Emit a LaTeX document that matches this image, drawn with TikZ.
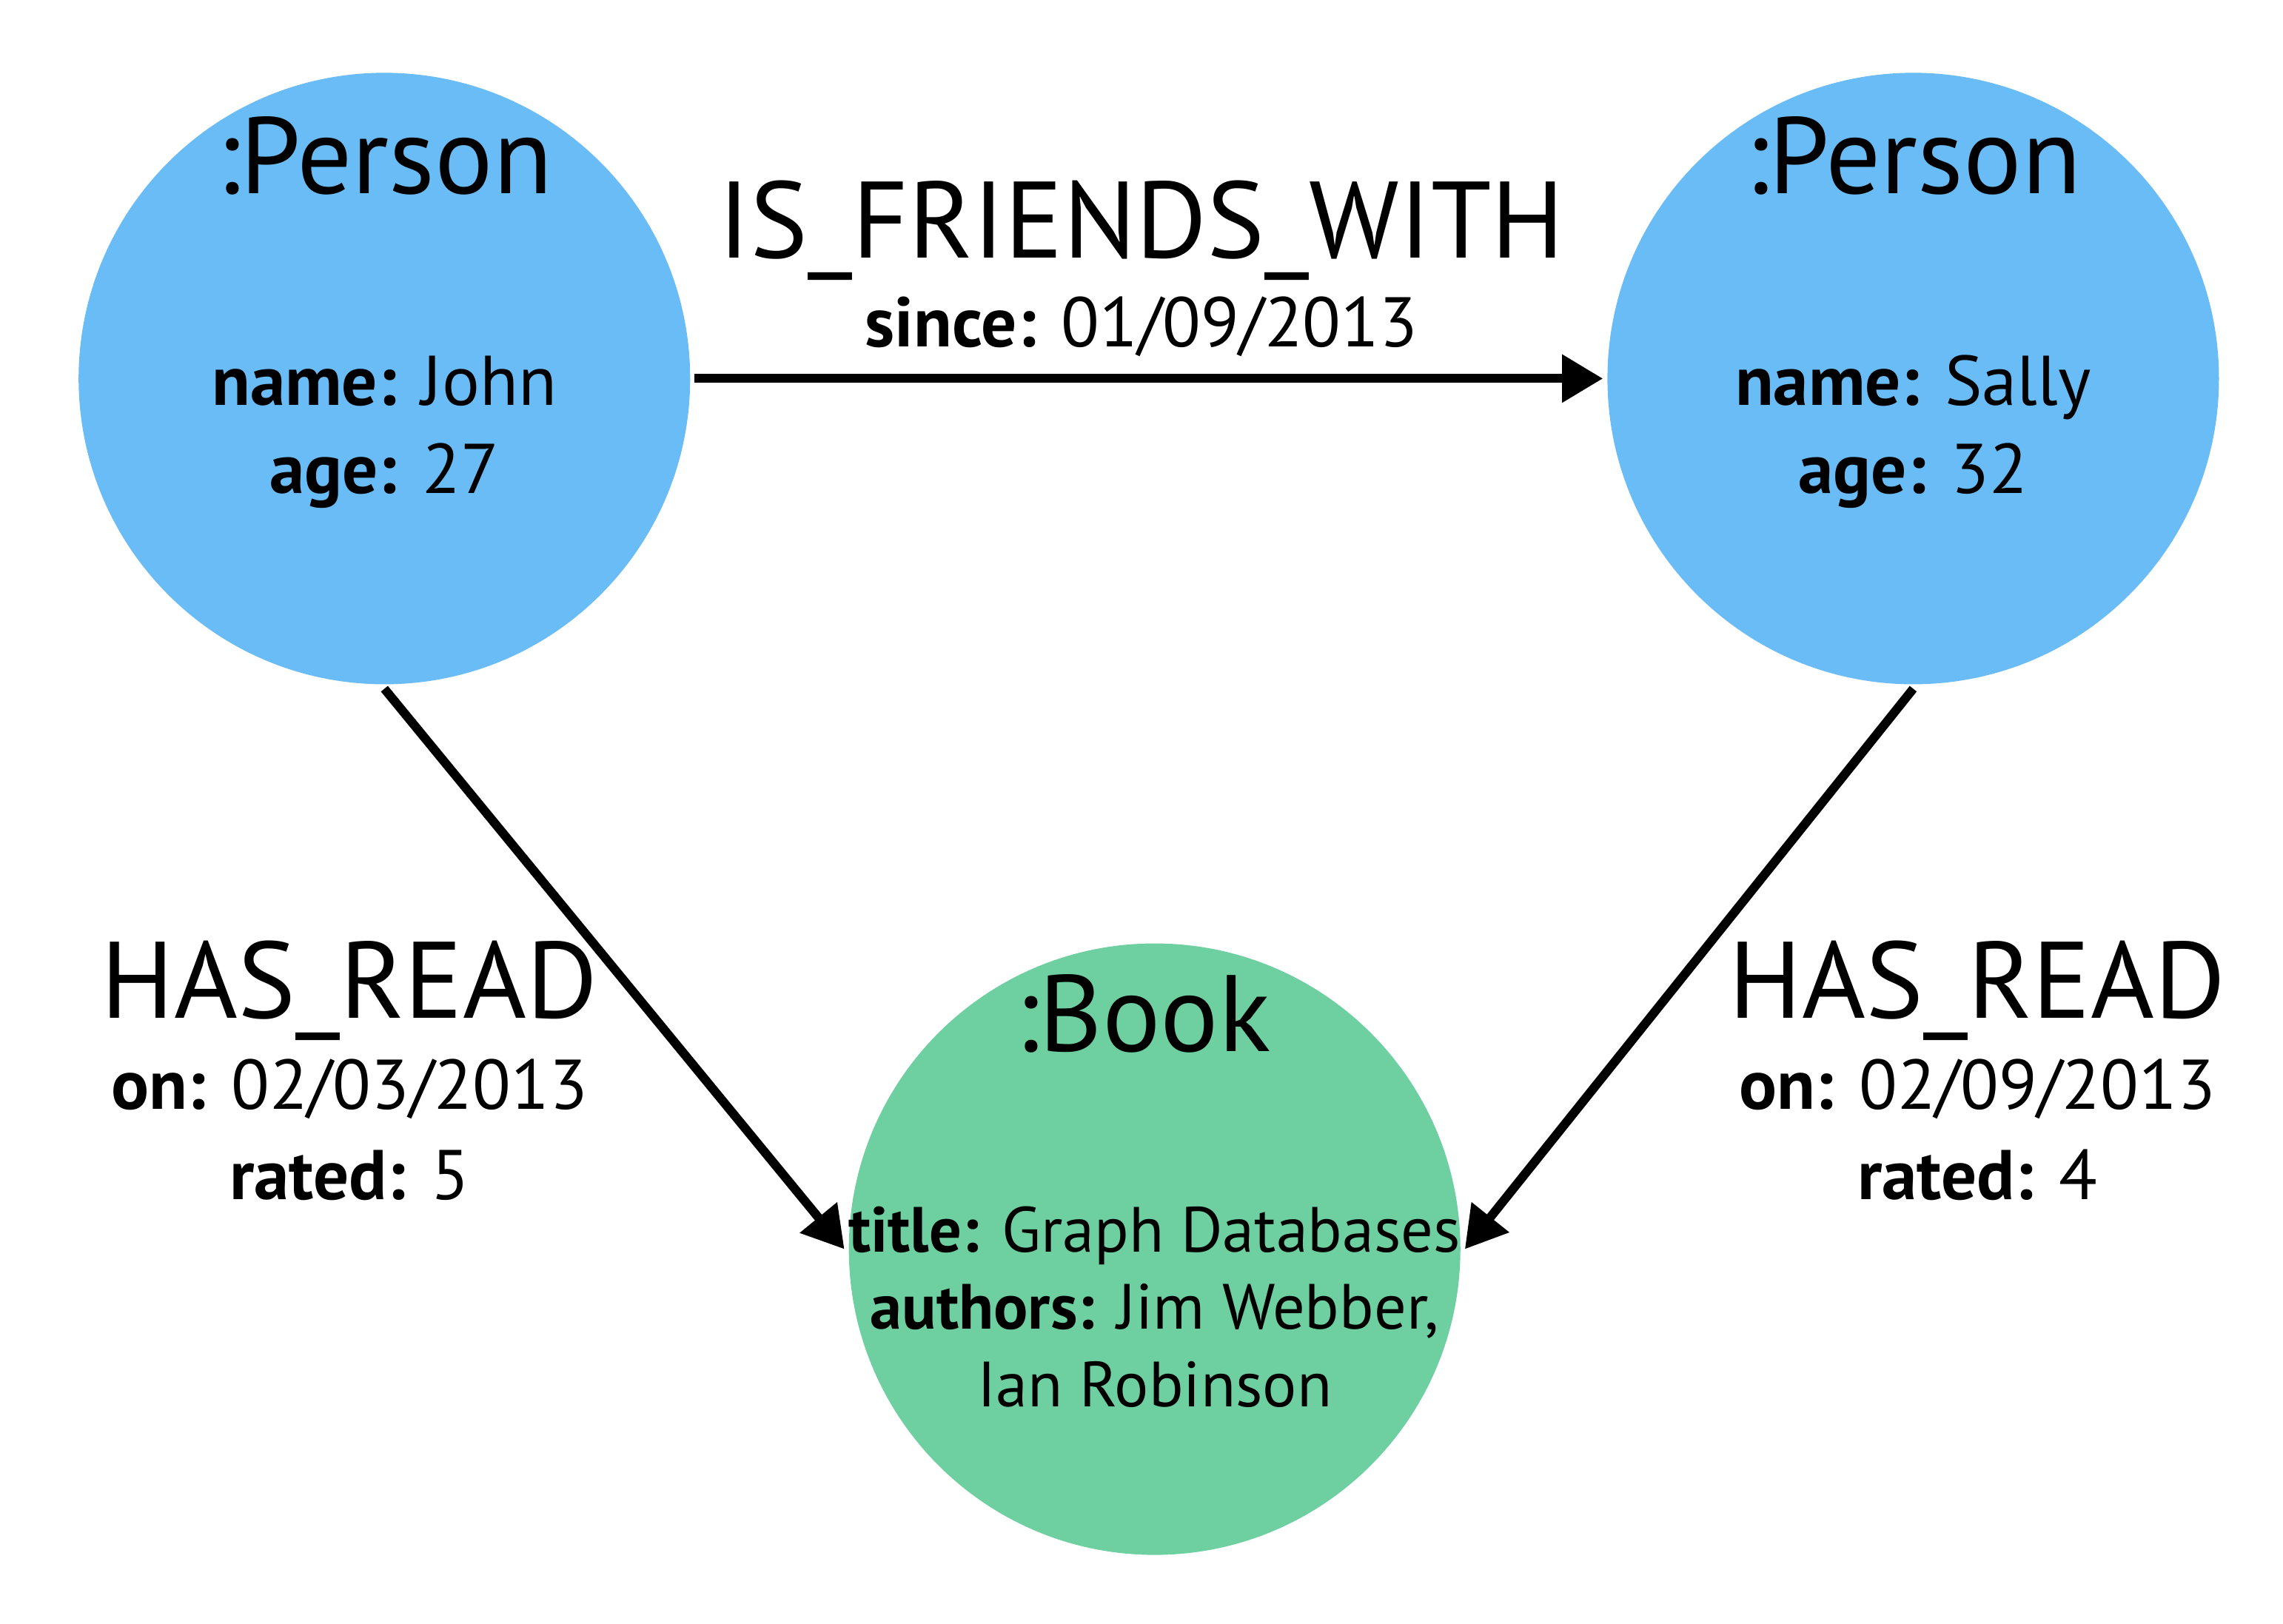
\documentclass[tikz,border=0pt]{standalone}
\usepackage{fontspec}
\setmainfont{PT Sans}
\usetikzlibrary{arrows.meta,positioning}
\definecolor{personblue}{RGB}{105,188,245}
\definecolor{bookgreen}{RGB}{110,207,160}
\tikzstyle{person} = [circle, fill=personblue, minimum size=8.4cm, inner sep=0pt]
\tikzstyle{book} = [circle, fill=bookgreen, minimum size=8.4cm, inner sep=0pt]
\tikzstyle{bigtext} = [anchor=base, inner sep=0pt, font=\fontsize{42.5}{50}\selectfont]
\tikzstyle{proptext} = [anchor=base, inner sep=0pt, font=\fontsize{27.5}{34}\selectfont]
\tikzstyle{booktext} = [anchor=base, inner sep=0pt, font=\fontsize{25}{30}\selectfont]

\begin{document}
\begin{tikzpicture}[->,>={Triangle[length=16pt,width=18pt]},line width=3.5pt,
                    node distance=21cm]
  \useasboundingbox (0,0) rectangle (31.36,-22.3);

  \node[person] (john)  at (5.28,-5.2)  {};
  \node[person] (sally) [right of=john] {};
  \node[book]   (book)  [below of=john,node distance=11.96cm,xshift=10.58cm] {};

  % node texts
  \node[bigtext]  (johntype) at ([yshift=2.54cm]john.center)   {:Person};
  \node[proptext] (johnname) at ([yshift=-0.37cm]john.center)  {\textbf{name:} John};
  \node[proptext] (johnage)  at ([yshift=-1.21cm]johnname.base) {\textbf{age:} 27};

  \node[bigtext]  (sallytype) at ([yshift=2.54cm]sally.center)    {:Person};
  \node[proptext] (sallyname) at ([yshift=-0.37cm]sally.center)   {\textbf{name:} Sally};
  \node[proptext] (sallyage)  at ([yshift=-1.21cm]sallyname.base) {\textbf{age:} 32};

  \node[bigtext]  (booktype)    at ([xshift=-0.16cm,yshift=2.72cm]book.center) {:Book};
  \node[booktext] (booktitle)   at ([yshift=-0.04cm]book.center)     {\textbf{title:} Graph Databases};
  \node[booktext] (bookauthors) at ([yshift=-1.06cm]booktitle.base)  {\textbf{authors:} Jim Webber,};
  \node[booktext] (bookauthors2) at ([yshift=-1.06cm]bookauthors.base) {Ian Robinson};

  % relationship texts
  \node[bigtext]  (johnread)  at ([xshift=-0.48cm,yshift=-8.79cm]john.center) {HAS\_READ};
  \node[proptext] (johnon)    at ([yshift=-1.25cm]johnread.base) {\textbf{on:} 02/03/2013};
  \node[proptext] (johnrated) at ([yshift=-1.24cm]johnon.base)   {\textbf{rated:} 5};

  \node[bigtext]  (sallyread)  at ([xshift=0.88cm,yshift=-8.79cm]sally.center) {HAS\_READ};
  \node[proptext] (sallyon)    at ([yshift=-1.25cm]sallyread.base) {\textbf{on:} 02/09/2013};
  \node[proptext] (sallyrated) at ([yshift=-1.24cm]sallyon.base)   {\textbf{rated:} 4};

  \path (john) edge node[bigtext,xshift=-0.1cm,yshift=1.66cm] (friends) {IS\_FRIENDS\_WITH}
                    node[proptext,xshift=-0.1cm,yshift=0.44cm] (since) {\textbf{since:} 01/09/2013} (sally)
  (john.south) edge (book.west)
  (sally.south) edge (book.east);
\end{tikzpicture}
\end{document}
